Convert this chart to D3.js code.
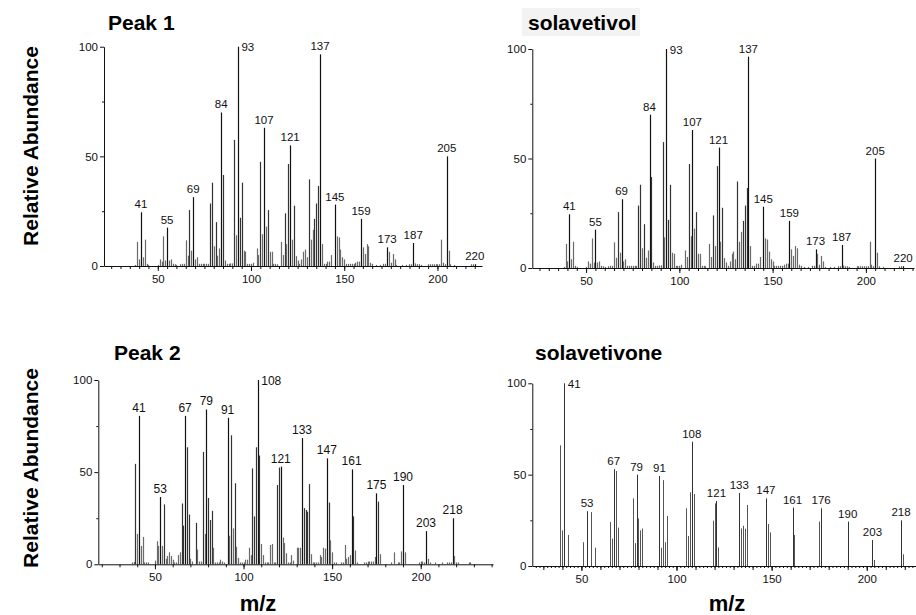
<!DOCTYPE html>
<html>
<head>
<meta charset="utf-8">
<script src="https://cdn.jsdelivr.net/npm/d3@7"></script>
<style>
body { margin: 0; background: #fff; }
svg text { font-family: "Liberation Sans", Arial, Helvetica, sans-serif; }
</style>
</head>
<body>
<div id="chart"></div>
<script>
// spectra as [m/z, relative abundance]
var peak1 = [
    [38,0.5],[39,11],[40,3],[41,24.5],[42,4],[43,12],[44,1],[45,0.5],
    [50,0.5],[51,3],[52,2],[53,13.5],[54,2.5],[55,17.5],[56,2.5],[57,3],[58,1],[59,0.8],[60,0.5],[62,0.8],[63,1],
    [64,1],[65,11.7],[66,4.7],[67,25.5],[68,7],[69,31.4],[70,3],[71,4],[72,1],[73,1],[74,1],[75,1],[76,1],[77,1],
    [78,28.5],[79,38],[80,9],[81,20],[82,4.7],[83,8],[84,70],[85,41.5],[86,2.5],[87,1],[88,1],[89,1.2],[90,1.2],
    [91,57.5],[92,14],[93,100],[94,22],[95,38],[96,7],[97,6.5],[98,1],[99,1],[100,1],[101,1.5],
    [103,8],[104,5],[105,47.5],[106,14.5],[107,63],[108,18],[109,25.5],[110,6.5],[111,6.5],[112,1],[113,1],[114,0.8],
    [116,11],[117,5],[118,24],[119,10],[120,46.5],[121,55],[122,12],[123,27.5],[124,4.5],[125,2.5],
    [126,1],[127,3],[128,6.5],[129,7.5],[130,4],[131,39.5],[132,12],[133,16.5],[134,21.5],[135,28.5],[136,36.5],[137,96.5],[138,10],
    [139,1],[140,1],[141,2],[142,2],[143,5],[145,28],[146,13.5],[147,13],[148,7.5],[149,4],[150,3],[151,1],
    [152,1],[153,1],[154,1],[155,1],[156,1.5],[157,2],[158,2],[159,21.5],[160,8.5],[161,5.5],[162,10],[163,9],[164,1.5],[165,1],
    [167,0.5],[169,0.5],[171,1],[172,1],[173,8.5],[174,6.5],[175,1.5],[176,5.5],[177,3],[178,0.5],
    [181,0.5],[183,0.5],[185,0.8],[186,0.8],[187,10.5],[188,1.2],[189,0.8],[190,0.8],[191,0.5],
    [195,0.8],[196,0.8],[197,0.8],[198,0.8],[199,0.8],[200,0.8],[201,0.8],[202,12],[203,1.5],[204,0.8],
    [205,50],[206,7],[207,0.8],[209,0.5],[218,0.8],[219,0.8],[220,0.8]
];
var peak1Labels = [41,55,69,84,93,107,121,137,145,159,173,187,205,220];

// the solavetivol reference spectrum reads the same as peak 1
var solavetivol = peak1;
var solavetivolLabels = peak1Labels;

var peak2 = [
    [37,1],[38,1.3],[39,54.5],[40,16.5],[41,80.5],[42,10],[43,14.8],[44,1],[45,1],[46,1],
    [50,2],[51,12.5],[52,10],[53,36.5],[54,10],[55,32.5],[56,3],[57,4.5],[58,6.5],[59,4.5],[60,2.5],[61,1],
    [62,1],[63,5],[64,6.5],[65,33],[66,21],[67,80.5],[68,63.5],[69,27],[70,3],[71,1.5],
    [73,22.5],[74,8],[75,1.5],[76,1.5],[77,61],[78,16.5],[79,84],[80,36],[81,24],[82,29],[83,9],
    [84,1],[85,1],[86,1],[87,2.5],[88,1.5],[89,1],
    [91,79.5],[92,15.5],[93,70],[94,19.5],[95,44],[96,9.5],[97,3.5],[98,1],[99,1],[100,1],[101,2.5],
    [102,2.5],[103,9],[104,5],[105,52],[106,26],[107,63.5],[108,100],[109,59],[110,11],[111,5],
    [112,1],[113,1],[114,1],[115,10.5],[116,11],[117,1],[118,1],[119,43],[120,52.5],[121,53],[122,14.5],[123,11.5],[124,6],
    [125,1],[126,1],[127,5],[128,2],[130,9],[131,9],[132,9],[133,68.5],[134,30.5],[135,29.5],[136,28.5],[137,43.5],[138,5.5],
    [139,1],[140,1],[141,1],[142,1],[143,5],[144,4],[145,9],[146,8.5],[147,57.5],[148,33.5],[149,13],[150,6.5],[151,1],[152,1],
    [155,1],[156,1],[157,10.5],[158,3],[159,4],[160,5],[161,51.5],[162,26],[163,7.5],[164,1],
    [168,1],[169,1],[170,1.5],[171,1.5],[172,1.5],[173,1.5],[174,4],[175,38.5],[176,34],[177,5.5],
    [183,1],[185,6.5],[187,1],[188,1],[189,7],[190,43],[191,6.5],
    [199,1],[200,1.5],[201,1.5],[202,1],[203,18],[204,3],[205,1],[208,1],[212,1],
    [215,1],[216,1],[217,1],[218,25],[219,4.5],[220,1],[221,1],[227,1],[228,1]
];
var peak2Labels = [41,53,67,79,91,108,121,133,147,161,175,190,203,218];

var solavetivone = [
    [39,66],[40,19.5],[41,100],[43,17],
    [51,13],[53,30],[55,29.5],[57,10],
    [65,24],[66,15],[67,53],[68,52],[69,21],
    [77,37],[78,12.5],[79,50],[80,26],[81,19.5],[82,20.5],
    [91,49.3],[92,10],[93,47],[94,13],[95,27.4],
    [105,31.6],[106,16.4],[107,40.3],[108,68],[109,39.4],
    [119,24.8],[120,34.3],[121,35.6],[122,10.2],
    [133,40],[134,20.6],[135,22],[136,20.4],[137,33.4],
    [147,37],[148,23],[149,18.4],
    [161,32],[162,17],
    [175,24.3],[176,31.6],
    [190,24.3],
    [203,14.2],[204,3.3],
    [218,25],[219,6.4]
];
var solavetivoneLabels = [41,53,67,79,91,108,121,133,147,161,176,190,203,218];

var xTicks = [50, 100, 150, 200];
var yTicks = [0, 50, 100];
var yMinor = [25, 75];

var svg = d3.select("#chart")
    .append("svg")
    .attr("width", 916)
    .attr("height", 615);

function drawPanel(p) {
    var x = d3.scaleLinear().domain(p.domain).range([p.left, p.right]);
    var y = d3.scaleLinear().domain([0, 100]).range([p.bottom, p.top]);
    var g = svg.append("g");

    // bars
    g.append("g").selectAll("line")
        .data(p.data)
        .enter()
        .append("line")
        .attr("x1", d => Math.round(x(d[0])) + 0.5)
        .attr("x2", d => Math.round(x(d[0])) + 0.5)
        .attr("y1", y(0))
        .attr("y2", d => y(d[1]))
        .attr("stroke", d => p.labels.indexOf(d[0]) >= 0 ? p.dark : (d[1] >= 20 ? p.mid : p.light))
        .attr("stroke-width", p.barWidth);

    // minor x ticks
    var minor = d3.range(Math.ceil(p.domain[0] / p.minorStep) * p.minorStep, p.domain[1], p.minorStep);
    g.append("g")
        .attr("transform", `translate(0,${p.bottom})`)
        .call(d3.axisBottom(x).tickValues(minor).tickSize(p.minorSize).tickSizeOuter(0).tickFormat(""))
        .call(a => a.select(".domain").remove());
    if (p.midStep) {
        var mid = d3.range(Math.ceil(p.domain[0] / p.midStep) * p.midStep, p.domain[1], p.midStep);
        g.append("g")
            .attr("transform", `translate(0,${p.bottom})`)
            .call(d3.axisBottom(x).tickValues(mid).tickSize(4).tickSizeOuter(0).tickFormat(""))
            .call(a => a.select(".domain").remove());
    }

    var xAxis = g.append("g")
        .attr("transform", `translate(0,${p.bottom})`)
        .call(d3.axisBottom(x).tickValues(xTicks).tickSize(5).tickSizeOuter(0).tickPadding(4));
    xAxis.selectAll("text").attr("font-size", "11.5px").attr("font-family", null).attr("fill", "#111");

    g.append("g")
        .attr("transform", `translate(${p.left},0)`)
        .call(d3.axisLeft(y).tickValues(yMinor).tickSize(2).tickFormat(""))
        .call(a => a.select(".domain").remove());
    var yAxis = g.append("g")
        .attr("transform", `translate(${p.left},0)`)
        .call(d3.axisLeft(y).tickValues(yTicks).tickSize(4).tickSizeOuter(0).tickPadding(2));
    yAxis.selectAll("text").attr("font-size", "11.5px").attr("font-family", null).attr("fill", "#111");

    g.selectAll(".domain, .tick line").attr("stroke", "#111");

    // peak labels
    var labelled = p.data.filter(d => p.labels.indexOf(d[0]) >= 0);
    g.append("g").selectAll("text")
        .data(labelled)
        .enter()
        .append("text")
        .text(d => d[0])
        .attr("x", d => p.side.indexOf(d[0]) >= 0 ? x(d[0]) + 3.5 : x(d[0]))
        .attr("y", d => p.side.indexOf(d[0]) >= 0 ? y(d[1]) + 4.5 : y(d[1]) - 4)
        .attr("text-anchor", d => p.side.indexOf(d[0]) >= 0 ? "start" : "middle")
        .attr("font-size", p.labelSize)
        .attr("fill", "#111");

    if (p.titleBox) {
        svg.append("rect")
            .attr("x", p.titleBox[0]).attr("y", p.titleBox[1])
            .attr("width", p.titleBox[2]).attr("height", p.titleBox[3])
            .attr("fill", "#f3f3f3");
    }
    svg.append("text")
        .text(p.title)
        .attr("x", p.titleX)
        .attr("y", p.titleY)
        .attr("font-size", "21px")
        .attr("font-weight", "bold")
        .attr("fill", "#000");
}

drawPanel({
    data: peak1, labels: peak1Labels, side: [93], title: "Peak 1", titleX: 108, titleY: 30,
    left: 104, right: 482, top: 46.7, bottom: 266, domain: [21.15, 223.9],
    minorStep: 5, minorSize: 3, barWidth: 1.2, labelSize: "11.5px",
    dark: "#111", mid: "#333", light: "#6a6a6a"
});
drawPanel({
    data: solavetivol, labels: solavetivolLabels, side: [93], title: "solavetivol", titleX: 528, titleY: 30,
    titleBox: [522, 8, 118, 28],
    left: 532.3, right: 914, top: 49, bottom: 268, domain: [21.16, 225.8],
    minorStep: 5, minorSize: 3, barWidth: 1.2, labelSize: "11.5px",
    dark: "#111", mid: "#333", light: "#6a6a6a"
});
drawPanel({
    data: peak2, labels: peak2Labels, side: [108], title: "Peak 2", titleX: 114, titleY: 360,
    left: 98.3, right: 493, top: 380, bottom: 564.3, domain: [18.03, 240.8],
    minorStep: 10, minorSize: 3, barWidth: 1.2, labelSize: "12px",
    dark: "#111", mid: "#333", light: "#6a6a6a"
});
drawPanel({
    data: solavetivone, labels: solavetivoneLabels, side: [41], title: "solavetivone", titleX: 535, titleY: 360,
    left: 532.3, right: 916, top: 383.3, bottom: 566, domain: [24.18, 225.9],
    minorStep: 2, minorSize: 2, midStep: 10, barWidth: 1, labelSize: "11.5px",
    dark: "#333", mid: "#555", light: "#555"
});

// axis titles
[146, 468].forEach(function(cy) {
    svg.append("text")
        .text("Relative Abundance")
        .attr("transform", `translate(38,${cy}) rotate(-90)`)
        .attr("text-anchor", "middle")
        .attr("font-size", "21px")
        .attr("font-weight", "bold")
        .attr("fill", "#000");
});
[258, 727].forEach(function(cx) {
    svg.append("text")
        .text("m/z")
        .attr("x", cx)
        .attr("y", 611)
        .attr("text-anchor", "middle")
        .attr("font-size", "22px")
        .attr("font-weight", "bold")
        .attr("fill", "#000");
});
</script>
</body>
</html>
